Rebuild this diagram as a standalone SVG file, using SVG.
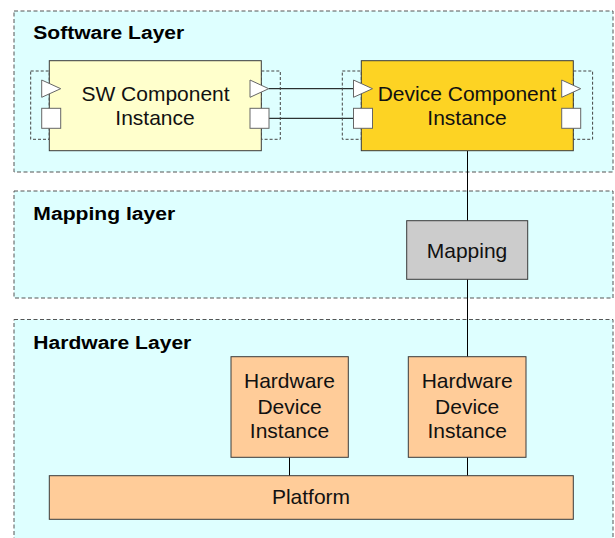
<svg xmlns="http://www.w3.org/2000/svg" width="615" height="538" viewBox="0 0 615 538">
<style>
.layer{fill:#DEFFFF;stroke:#555;stroke-width:1;stroke-dasharray:4 2.5}
.ltitle{font-family:"Liberation Sans",Arial,sans-serif;font-weight:bold;font-size:18px;fill:#000}
.ntext{font-family:"Liberation Sans",Arial,sans-serif;font-size:21px;fill:#111;text-anchor:middle}
.box{stroke:#3a3a3a;stroke-width:1}
.portarea{fill:none;stroke:#444;stroke-width:1;stroke-dasharray:3 2}
.port{fill:#fff;stroke:#666;stroke-width:1}
.conn{stroke:#000;stroke-width:1;fill:none}
</style>
<rect width="615" height="538" fill="#fff"/>
<g id="software-layer">
<rect class="layer" x="14" y="11" width="599" height="161"/>
<text class="ltitle" x="33.3" y="39.3" textLength="151" lengthAdjust="spacingAndGlyphs">Software Layer</text>
</g>
<g id="mapping-layer">
<rect class="layer" x="14" y="191" width="599" height="107"/>
<text class="ltitle" x="33.3" y="220" textLength="142" lengthAdjust="spacingAndGlyphs">Mapping layer</text>
</g>
<g id="hardware-layer">
<rect class="layer" x="14" y="319.5" width="599" height="240"/>
<text class="ltitle" x="33.3" y="349" textLength="158" lengthAdjust="spacingAndGlyphs">Hardware Layer</text>
</g>
<g id="connectors">
<line class="conn" x1="268.7" y1="88.7" x2="353.5" y2="88.7"/>
<line class="conn" x1="269" y1="118.3" x2="353.5" y2="118.3" stroke="#444"/>
<line class="conn" x1="467.5" y1="151" x2="467.5" y2="221"/>
<line class="conn" x1="467.5" y1="279" x2="467.5" y2="357"/>
<line class="conn" x1="289.5" y1="457" x2="289.5" y2="476"/>
<line class="conn" x1="467.5" y1="457" x2="467.5" y2="476"/>
</g>
<g id="sw-component">
<rect class="portarea" x="30.7" y="71" width="18.5" height="68.3"/>
<rect class="portarea" x="261.3" y="71" width="19" height="68.3"/>
<rect class="box" x="49.3" y="60.7" width="212" height="90" fill="#FFFFCC"/>
<polygon class="port" points="41.7,80 60.7,88.7 41.7,97.3"/>
<rect class="port" x="41.7" y="108.3" width="19" height="20"/>
<polygon class="port" points="250,80 268.7,88.7 250,97.3"/>
<rect class="port" x="250" y="108.3" width="19" height="20"/>
<text class="ntext" x="155.5" y="101">SW Component</text>
<text class="ntext" x="155" y="125">Instance</text>
</g>
<g id="device-component">
<rect class="portarea" x="342.3" y="71" width="19" height="68.3"/>
<rect class="portarea" x="573.3" y="71" width="19.3" height="68.3"/>
<rect class="box" x="361.3" y="60.7" width="212" height="90" fill="#FDD323"/>
<polygon class="port" points="353.5,80 372.5,88.7 353.5,97.3"/>
<rect class="port" x="353.5" y="108.3" width="19" height="20"/>
<polygon class="port" points="561.7,80 580.7,88.7 561.7,97.3"/>
<rect class="port" x="561.7" y="108.3" width="19" height="20"/>
<text class="ntext" x="467" y="100.7">Device Component</text>
<text class="ntext" x="467" y="125">Instance</text>
</g>
<g id="mapping">
<rect class="box" x="406.7" y="220.7" width="121" height="58.6" fill="#CCCCCC"/>
<text class="ntext" x="467" y="258.3">Mapping</text>
</g>
<g id="hw-device-1">
<rect class="box" x="231" y="356.7" width="117.3" height="100.6" fill="#FFCC99"/>
<text class="ntext" x="289.5" y="388.3">Hardware</text>
<text class="ntext" x="289.5" y="414">Device</text>
<text class="ntext" x="289.5" y="438.3">Instance</text>
</g>
<g id="hw-device-2">
<rect class="box" x="408.3" y="356.7" width="117.7" height="100.6" fill="#FFCC99"/>
<text class="ntext" x="467.2" y="388.3">Hardware</text>
<text class="ntext" x="467.2" y="414">Device</text>
<text class="ntext" x="467.2" y="438.3">Instance</text>
</g>
<g id="platform">
<rect class="box" x="49.3" y="475.7" width="524" height="43.6" fill="#FFCC99"/>
<text class="ntext" x="311" y="504.3">Platform</text>
</g>
</svg>
